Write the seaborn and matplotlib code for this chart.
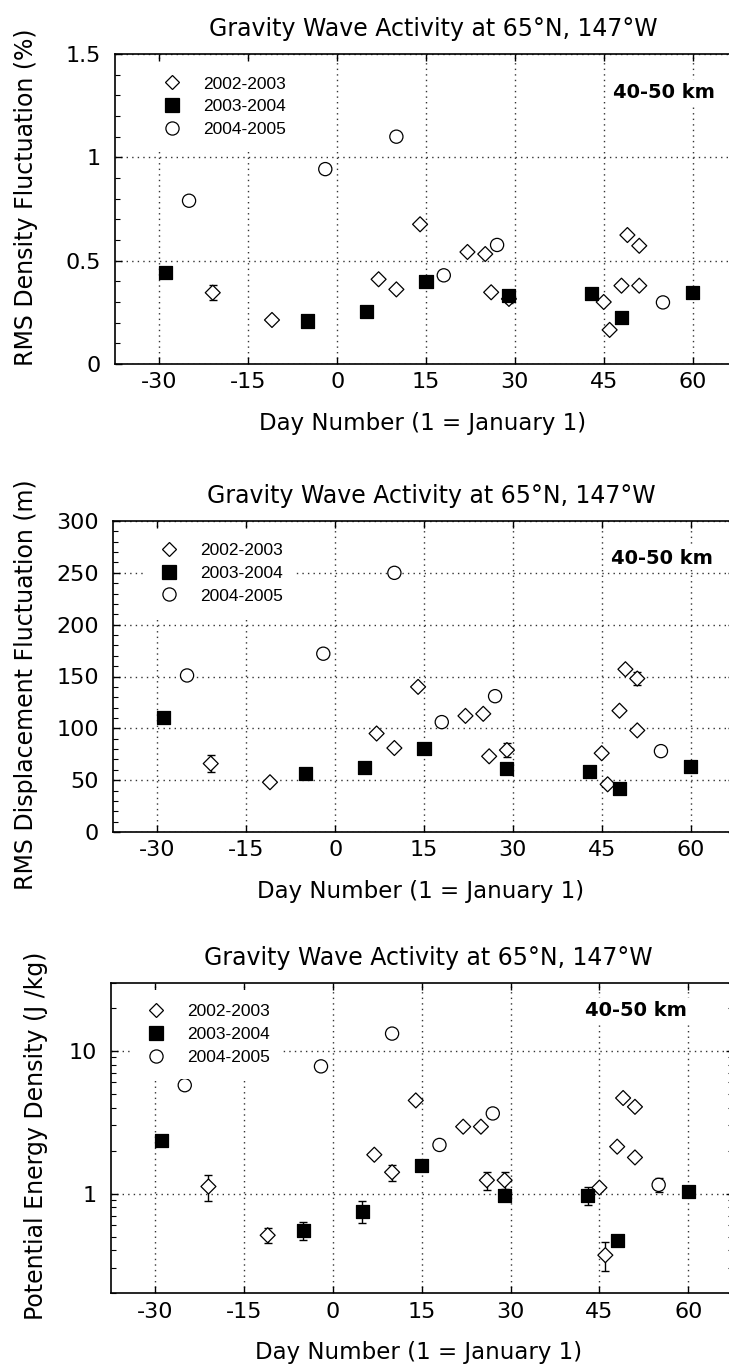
import matplotlib
matplotlib.use("Agg")
import matplotlib.pyplot as plt
from matplotlib.lines import Line2D
from matplotlib.ticker import FixedLocator, LogLocator, NullLocator, NullFormatter
import numpy as np
import pandas as pd
import seaborn as sns

# ---- data -------------------------------------------------------------
seasons = ["2002-2003", "2003-2004", "2004-2005"]

days_0203 = [-21, -11, 7, 10, 14, 22, 25, 26, 29, 45, 46, 48, 49, 51, 51]
days_0304 = [-29, -5, 5, 15, 29, 43, 48, 60]
days_0405 = [-25, -2, 10, 18, 27, 55]

density_0203 = [0.345, 0.213, 0.41, 0.361, 0.676, 0.542, 0.532, 0.347, 0.315,
                0.30, 0.165, 0.379, 0.624, 0.572, 0.379]
density_0304 = [0.442, 0.208, 0.253, 0.40, 0.332, 0.342, 0.227, 0.345]
density_0405 = [0.79, 0.943, 1.10, 0.429, 0.576, 0.298]
density_err_0203 = [0.035, 0, 0, 0, 0, 0, 0, 0, 0.02, 0, 0, 0, 0, 0, 0]

displacement_0203 = [66, 48, 95, 81, 140, 112, 114, 73, 79, 76, 46, 117, 157, 148, 98]
displacement_0304 = [110, 56, 62, 81, 61, 58, 42, 63]
displacement_0405 = [151, 172, 250, 106, 131, 78]
displacement_err_0203 = [8, 0, 0, 0, 0, 0, 0, 0, 7, 0, 0, 0, 0, 6, 0]

energy_0203 = [1.12, 0.51, 1.87, 1.41, 4.49, 2.94, 2.94, 1.24, 1.24, 1.10, 0.37,
               2.13, 4.67, 4.05, 1.79]
energy_0304 = [2.35, 0.55, 0.75, 1.58, 0.97, 0.97, 0.47, 1.04]
energy_0405 = [5.74, 7.78, 13.2, 2.19, 3.64, 1.15]
energy_err_0203 = [0.23, 0.06, 0, 0.18, 0, 0, 0, 0.18, 0.17, 0.05, 0.085, 0, 0, 0, 0]
energy_err_0304 = [0, 0.08, 0.13, 0, 0, 0.14, 0.04, 0.07]
energy_err_0405 = [0, 0, 0, 0, 0, 0.13]

day_ticks = [-30, -15, 0, 15, 30, 45, 60]
density_ticks = [0, 0.5, 1, 1.5]
density_labels = ["0", "0.5", "1", "1.5"]
displacement_ticks = [0, 50, 100, 150, 200, 250, 300]
energy_ticks = [1, 10]
energy_labels = ["1", "10"]

title_text = "Gravity Wave Activity at 65\u00b0N, 147\u00b0W"
xlabel_text = "Day Number (1 = January 1)"
layer_text = "40-50 km"

# ---- style ------------------------------------------------------------
sns.set_style("white", rc={"axes.edgecolor": "black", "text.color": "black",
                           "xtick.color": "black", "ytick.color": "black",
                           "axes.labelcolor": "black"})
plt.rcParams["font.family"] = ["DejaVu Sans"]
plt.rcParams["axes.unicode_minus"] = False

face = {"2002-2003": "white", "2003-2004": "black", "2004-2005": "white"}
marks = {"2002-2003": "D", "2003-2004": "s", "2004-2005": "o"}
area = {"2002-2003": 58, "2003-2004": 88, "2004-2005": 90}

W, H = 729, 1366
fig = plt.figure(figsize=(W / 100, H / 100), dpi=100)


def frame(left, top, bottom, right):
    return [left / W, 1 - bottom / H, (right - left) / W, (bottom - top) / H]


def season_table(values, errors):
    parts = []
    for season, d, v, e in zip(seasons, (days_0203, days_0304, days_0405), values, errors):
        parts.append(pd.DataFrame({"day": d, "value": v, "err": e, "season": season}))
    return pd.concat(parts, ignore_index=True)


def draw_panel(ax, df, ylabel, ylabel_pos, legend_pos, layer_pos):
    sns.scatterplot(data=df, x="day", y="value", hue="season", style="season",
                    size="season", palette=face, markers=marks, sizes=area,
                    edgecolor="black", linewidth=0.9, legend=False, ax=ax, zorder=3)
    eb = df[df["err"] > 0]
    ax.errorbar(eb["day"], eb["value"], yerr=eb["err"], fmt="none", ecolor="black",
                elinewidth=1.0, capsize=3, capthick=1.0, zorder=2)

    ax.set_xlim(-37.5, 67.5)
    ax.xaxis.set_major_locator(FixedLocator(day_ticks))
    ax.xaxis.set_minor_locator(NullLocator())
    ax.set_xlabel("")
    ax.set_ylabel("")

    ax.tick_params(which="both", direction="in", top=True, right=True,
                   bottom=True, left=True)
    ax.tick_params(which="major", length=5, width=1, labelsize=16)
    ax.tick_params(axis="x", which="major", pad=6)
    ax.tick_params(axis="y", which="major", pad=10)
    ax.tick_params(which="minor", length=3.8, width=0.8)
    ax.grid(True, which="major", linestyle=(0, (1, 3)), color="#333333", linewidth=1.0)
    for sp in ax.spines.values():
        sp.set_linewidth(1.2)
        sp.set_color("black")

    ax.text(0.511, 1.058, title_text, transform=ax.transAxes, ha="center",
            va="baseline", fontsize=17)
    ax.text(0.495, -0.212, xlabel_text, transform=ax.transAxes, ha="center",
            va="baseline", fontsize=16.5)
    ax.text(ylabel_pos[0], ylabel_pos[1], ylabel, transform=ax.transAxes,
            rotation=90, ha="center", va="center", fontsize=17)
    ax.text(layer_pos[0], layer_pos[1], layer_text, transform=ax.transAxes,
            ha="center", va="center", fontsize=14, fontweight="bold",
            bbox=dict(facecolor="white", edgecolor="none", pad=2), zorder=4)

    handles = [Line2D([], [], linestyle="none", marker=marks[s],
                      markersize=np.sqrt(area[s]), markerfacecolor=face[s],
                      markeredgecolor="black", markeredgewidth=0.9) for s in seasons]
    ax.legend(handles, seasons, loc="upper left", bbox_to_anchor=legend_pos,
              borderaxespad=0, frameon=True, fancybox=False, framealpha=1,
              facecolor="white", edgecolor="none",
              prop={"family": "Liberation Sans", "size": 12.5},
              handlelength=1.2, handletextpad=1.18, labelspacing=0.44,
              borderpad=0.79)


# ---- panel 1: density fluctuation ------------------------------------
ax1 = fig.add_axes(frame(115, 54, 364, 737))
df1 = season_table((density_0203, density_0304, density_0405),
                   (density_err_0203, [0] * len(days_0304), [0] * len(days_0405)))
draw_panel(ax1, df1, "RMS Density Fluctuation (%)", (-0.143, 0.539),
           (0.053, 0.972), (0.882, 0.877))
ax1.set_ylim(0, 1.5)
ax1.yaxis.set_major_locator(FixedLocator(density_ticks))
ax1.set_yticklabels(density_labels)
ax1.yaxis.set_minor_locator(FixedLocator(np.arange(0, 1.51, 0.1)))

# ---- panel 2: displacement fluctuation -------------------------------
ax2 = fig.add_axes(frame(113, 521, 832, 735))
df2 = season_table((displacement_0203, displacement_0304, displacement_0405),
                   (displacement_err_0203, [0] * len(days_0304), [0] * len(days_0405)))
draw_panel(ax2, df2, "RMS Displacement Fluctuation (m)", (-0.140, 0.473),
           (0.051, 0.974), (0.883, 0.881))
ax2.set_ylim(0, 300)
ax2.yaxis.set_major_locator(FixedLocator(displacement_ticks))
ax2.set_yticklabels([str(t) for t in displacement_ticks])
ax2.yaxis.set_minor_locator(FixedLocator(np.arange(0, 301, 10)))

# ---- panel 3: potential energy density -------------------------------
ax3 = fig.add_axes(frame(110.7, 982.7, 1293.3, 732.7))
df3 = season_table((energy_0203, energy_0304, energy_0405),
                   (energy_err_0203, energy_err_0304, energy_err_0405))
draw_panel(ax3, df3, "Potential Energy Density (J /kg)", (-0.120, 0.506),
           (0.034, 0.975), (0.845, 0.912))
ax3.set_yscale("log")
ax3.set_ylim(0.2, 30)
ax3.yaxis.set_major_locator(FixedLocator(energy_ticks))
ax3.set_yticklabels(energy_labels)
ax3.yaxis.set_minor_locator(LogLocator(base=10, subs=np.arange(2, 10)))
ax3.yaxis.set_minor_formatter(NullFormatter())

fig.savefig("out.png", dpi=100)
